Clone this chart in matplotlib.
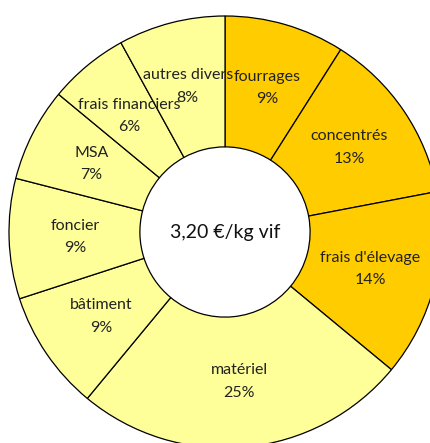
import matplotlib.pyplot as plt

names = ["fourrages", "concentrés", "frais d'élevage", "matériel", "bâtiment",
         "foncier", "MSA", "frais financiers", "autres divers"]
shares = [9, 13, 14, 25, 9, 9, 7, 6, 8]
colors = ["#FFCC00", "#FFCC00", "#FFCC00", "#FFFF99", "#FFFF99",
          "#FFFF99", "#FFFF99", "#FFFF99", "#FFFF99"]
center_text = "3,20 €/kg vif"

plt.rcParams['font.family'] = ['Lato', 'DejaVu Sans']

fig = plt.figure(figsize=(4.3, 4.43), dpi=100)
ax = fig.add_axes([0, 0, 1, 1])

labels = [f"{n}\n{v}%" for n, v in zip(names, shares)]
ax.pie(shares, labels=labels, colors=colors, startangle=90, counterclock=False,
       radius=1.0, labeldistance=0.695,
       wedgeprops=dict(width=0.606, edgecolor="black", linewidth=0.9),
       textprops=dict(fontsize=11.5, ha="center", va="center", color="#222222",
                      linespacing=1.75))

ax.text(0, 0, center_text, ha="center", va="center", fontsize=14, color="#111111")

ax.set_xlim(-225 / 216, 205 / 216)
ax.set_ylim(-211 / 216, 232 / 216)
ax.set_aspect("auto")
ax.axis("off")

fig.savefig("out.png", dpi=100)
